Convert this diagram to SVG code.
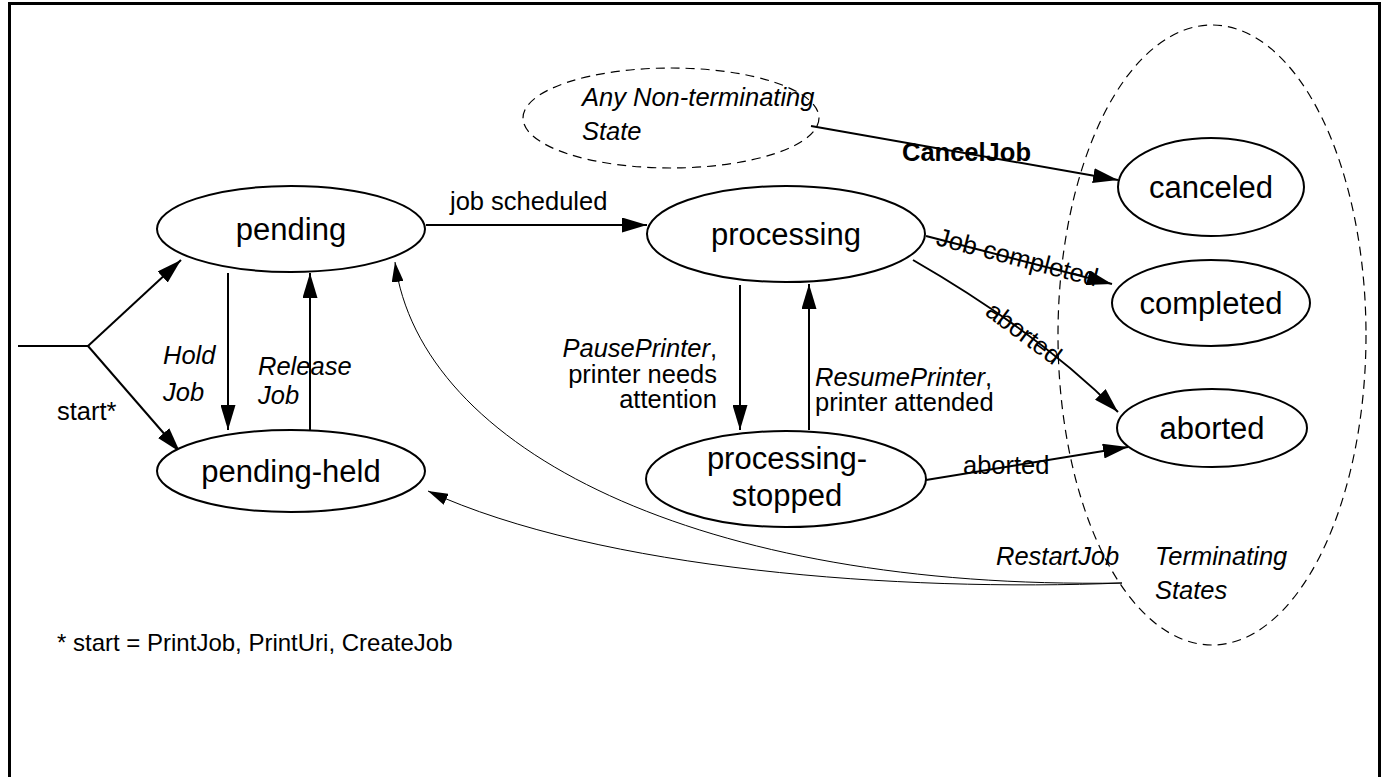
<svg xmlns="http://www.w3.org/2000/svg" width="1387" height="777" viewBox="0 0 1387 777">
<defs>
<style>
.st{fill:#fff;stroke:#000;stroke-width:2}
.dash{fill:none;stroke:#000;stroke-width:1.2;stroke-dasharray:9 6}
.ln{fill:none;stroke:#000;stroke-width:2}
.thin{fill:none;stroke:#000;stroke-width:1}
.nt{font-family:"Liberation Sans",Arial,sans-serif;font-size:31px;fill:#000;text-anchor:middle}
.lb{font-family:"Liberation Sans",Arial,sans-serif;font-size:25.5px;fill:#000}
.fn{font-family:"Liberation Sans",Arial,sans-serif;font-size:24px;fill:#000}
.it{font-style:italic}
</style>
<marker id="ah" markerUnits="userSpaceOnUse" markerWidth="25" markerHeight="15" refX="25" refY="7.5" orient="auto" viewBox="0 0 25 15">
<path d="M0,0 L25,7.5 L0,15 z" fill="#000"/>
</marker>
<marker id="ahs" markerUnits="userSpaceOnUse" markerWidth="20" markerHeight="12" refX="20" refY="6" orient="auto" viewBox="0 0 20 12">
<path d="M0,0 L20,6 L0,12 z" fill="#000"/>
</marker>
</defs>
<rect x="0" y="0" width="1387" height="777" fill="#fff"/>
<path d="M9.5,800 V3.5 H1379.5 V800" fill="none" stroke="#000" stroke-width="3"/>

<g id="terminating-states">
<ellipse class="dash" cx="1212" cy="335" rx="154" ry="310"/>
<text class="lb it" x="1155" y="565">Terminating</text>
<text class="lb it" x="1155" y="599">States</text>
</g>
<g id="any-state">
<ellipse class="dash" cx="671" cy="118" rx="148" ry="50"/>
<text class="lb it" x="582" y="106">Any Non-terminating</text>
<text class="lb it" x="582" y="140">State</text>
</g>

<g id="connectors">
<path class="ln" d="M18,346 H88"/>
<path class="ln" d="M88,346 L181,260" marker-end="url(#ah)"/>
<path class="ln" d="M88,346 L180,452" marker-end="url(#ah)"/>
<path class="ln" d="M228,273 V430" marker-end="url(#ah)"/>
<path class="ln" d="M310,430 V273" marker-end="url(#ah)"/>
<path class="ln" d="M426,225 H647" marker-end="url(#ah)"/>
<path class="ln" d="M740,285 V430" marker-end="url(#ah)"/>
<path class="ln" d="M809,430 V284" marker-end="url(#ah)"/>
<path class="ln" d="M811,126 L1118,180" marker-end="url(#ah)"/>
<path class="ln" d="M926,236 L1112,284" marker-end="url(#ah)"/>
<path class="ln" d="M913,260 Q1038,332 1118,412" marker-end="url(#ah)"/>
<path class="ln" d="M926,480 L1128,447" marker-end="url(#ah)"/>
<path class="thin" d="M1122,583 C700,590 420,450 395,262" marker-end="url(#ahs)"/>
<path class="thin" d="M1122,583 C900,592 600,570 428,491" marker-end="url(#ahs)"/>
<text class="lb" x="57" y="420">start*</text>
<text class="lb it" x="163" y="364">Hold</text>
<text class="lb it" x="163" y="401">Job</text>
<text class="lb it" x="258" y="375">Release</text>
<text class="lb it" x="258" y="404">Job</text>
<text class="lb" x="450" y="210">job scheduled</text>
<text class="lb" x="717" y="357" text-anchor="end"><tspan class="it">PausePrinter</tspan>,</text>
<text class="lb" x="717" y="383" text-anchor="end">printer needs</text>
<text class="lb" x="717" y="408" text-anchor="end">attention</text>
<text class="lb" x="815" y="386"><tspan class="it">ResumePrinter</tspan>,</text>
<text class="lb" x="815" y="411">printer attended</text>
<text class="lb" x="902" y="161" font-weight="bold">CancelJob</text>
<text class="lb" text-anchor="middle" transform="translate(1017,259) rotate(14.6)" y="7">Job completed</text>
<text class="lb" transform="translate(1028,327) rotate(36.6)" x="-43" y="16">aborted</text>
<text class="lb" x="963" y="474">aborted</text>
<text class="lb it" x="996" y="565">RestartJob</text>
</g>

<g id="pending">
<ellipse class="st" cx="291" cy="229" rx="134" ry="43"/>
<text class="nt" x="291" y="240">pending</text>
</g>
<g id="pending-held">
<ellipse class="st" cx="291" cy="471" rx="134" ry="41"/>
<text class="nt" x="291" y="482">pending-held</text>
</g>
<g id="processing">
<ellipse class="st" cx="786" cy="234" rx="139" ry="48"/>
<text class="nt" x="786" y="245">processing</text>
</g>
<g id="processing-stopped">
<ellipse class="st" cx="786" cy="479" rx="140" ry="48"/>
<text class="nt" x="787" y="469">processing-</text>
<text class="nt" x="787" y="506">stopped</text>
</g>
<g id="canceled">
<ellipse class="st" cx="1211" cy="187" rx="93" ry="49"/>
<text class="nt" x="1211" y="198">canceled</text>
</g>
<g id="completed">
<ellipse class="st" cx="1211" cy="303" rx="99" ry="43"/>
<text class="nt" x="1211" y="314">completed</text>
</g>
<g id="aborted">
<ellipse class="st" cx="1212" cy="428" rx="95" ry="39"/>
<text class="nt" x="1212" y="439">aborted</text>
</g>

<text class="fn" x="57" y="651">* start = PrintJob, PrintUri, CreateJob</text>
</svg>
